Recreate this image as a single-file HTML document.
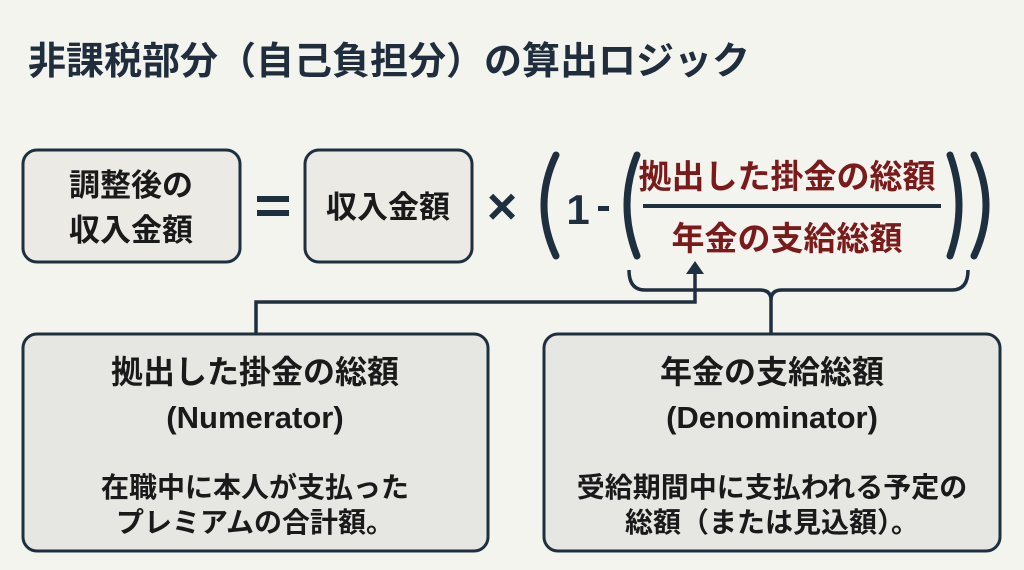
<!DOCTYPE html>
<html><head><meta charset="utf-8"><style>
html,body{margin:0;padding:0;background:#f4f4ef;}
svg{display:block}
text{font-family:"Liberation Sans","Noto Sans CJK JP",sans-serif;font-weight:bold;}
</style></head><body>
<svg width="1024" height="570" viewBox="0 0 1024 570" xmlns="http://www.w3.org/2000/svg">
<rect width="1024" height="570" fill="#f4f4ef"/>
<text x="28" y="74" font-size="38" fill="#1f2d3d">非課税部分（自己負担分）の算出ロジック</text>
<g stroke="#1e2f40" stroke-width="3" fill="#ebeae4">
<rect x="23" y="150" width="217" height="112" rx="14"/>
<rect x="305" y="150" width="167" height="112" rx="14"/>
</g>
<g fill="#1a1a1a" font-size="31" text-anchor="middle">
<text x="131" y="196">調整後の</text>
<text x="131" y="241">収入金額</text>
<text x="388" y="218">収入金額</text>
</g>
<g fill="#1e2f40">
<rect x="257" y="196" width="32" height="6"/>
<rect x="257" y="210" width="32" height="6"/>
</g>
<text x="502" y="224" font-size="52" fill="#1e2f40" text-anchor="middle">×</text>
<g stroke="#1e2f40" stroke-width="7" fill="none" stroke-linecap="round">
<path d="M556 155 Q532 205 556 256"/>
<path d="M637 155 Q617 205 637 256"/>
<path d="M950 155 Q968 205 950 256"/>
<path d="M974 155 Q998 205 974 256"/>
</g>
<text x="578" y="224" font-size="42" fill="#1e2f40" text-anchor="middle">1</text>
<rect x="598" y="206" width="11" height="5" fill="#1e2f40"/>
<text x="787" y="188" font-size="33" fill="#7a1a1a" text-anchor="middle">拠出した掛金の総額</text>
<rect x="643" y="204" width="298" height="4" fill="#1e2f40"/>
<text x="787" y="250" font-size="33" fill="#7a1a1a" text-anchor="middle">年金の支給総額</text>
<g stroke="#1e2f40" stroke-width="3.5" fill="none">
<path d="M629 270 Q629 290 645 290 L760 290 Q771 290 771 300 L771 333"/>
<path d="M968 270 Q968 290 952 290 L782 290 Q771 290 771 300"/>
<path d="M256 334 L256 302 L695 302 L695 272"/>
</g>
<path d="M686 274 L695 261 L704 274 Z" fill="#1e2f40"/>
<g stroke="#1e2f40" stroke-width="3" fill="#e6e6e3">
<rect x="23" y="334" width="465" height="217" rx="14"/>
<rect x="544" y="334" width="456" height="217" rx="14"/>
</g>
<g fill="#1a1a1a" text-anchor="middle">
<text x="255" y="383" font-size="32">拠出した掛金の総額</text>
<text x="255" y="428" font-size="31">(Numerator)</text>
<text x="255" y="497" font-size="28">在職中に本人が支払った</text>
<text x="255" y="532" font-size="28">プレミアムの合計額。</text>
<text x="772" y="383" font-size="32">年金の支給総額</text>
<text x="772" y="428" font-size="31">(Denominator)</text>
<text x="772" y="497" font-size="28">受給期間中に支払われる予定の</text>
<text x="772" y="532" font-size="28">総額（または見込額）。</text>
</g>
</svg>
</body></html>
